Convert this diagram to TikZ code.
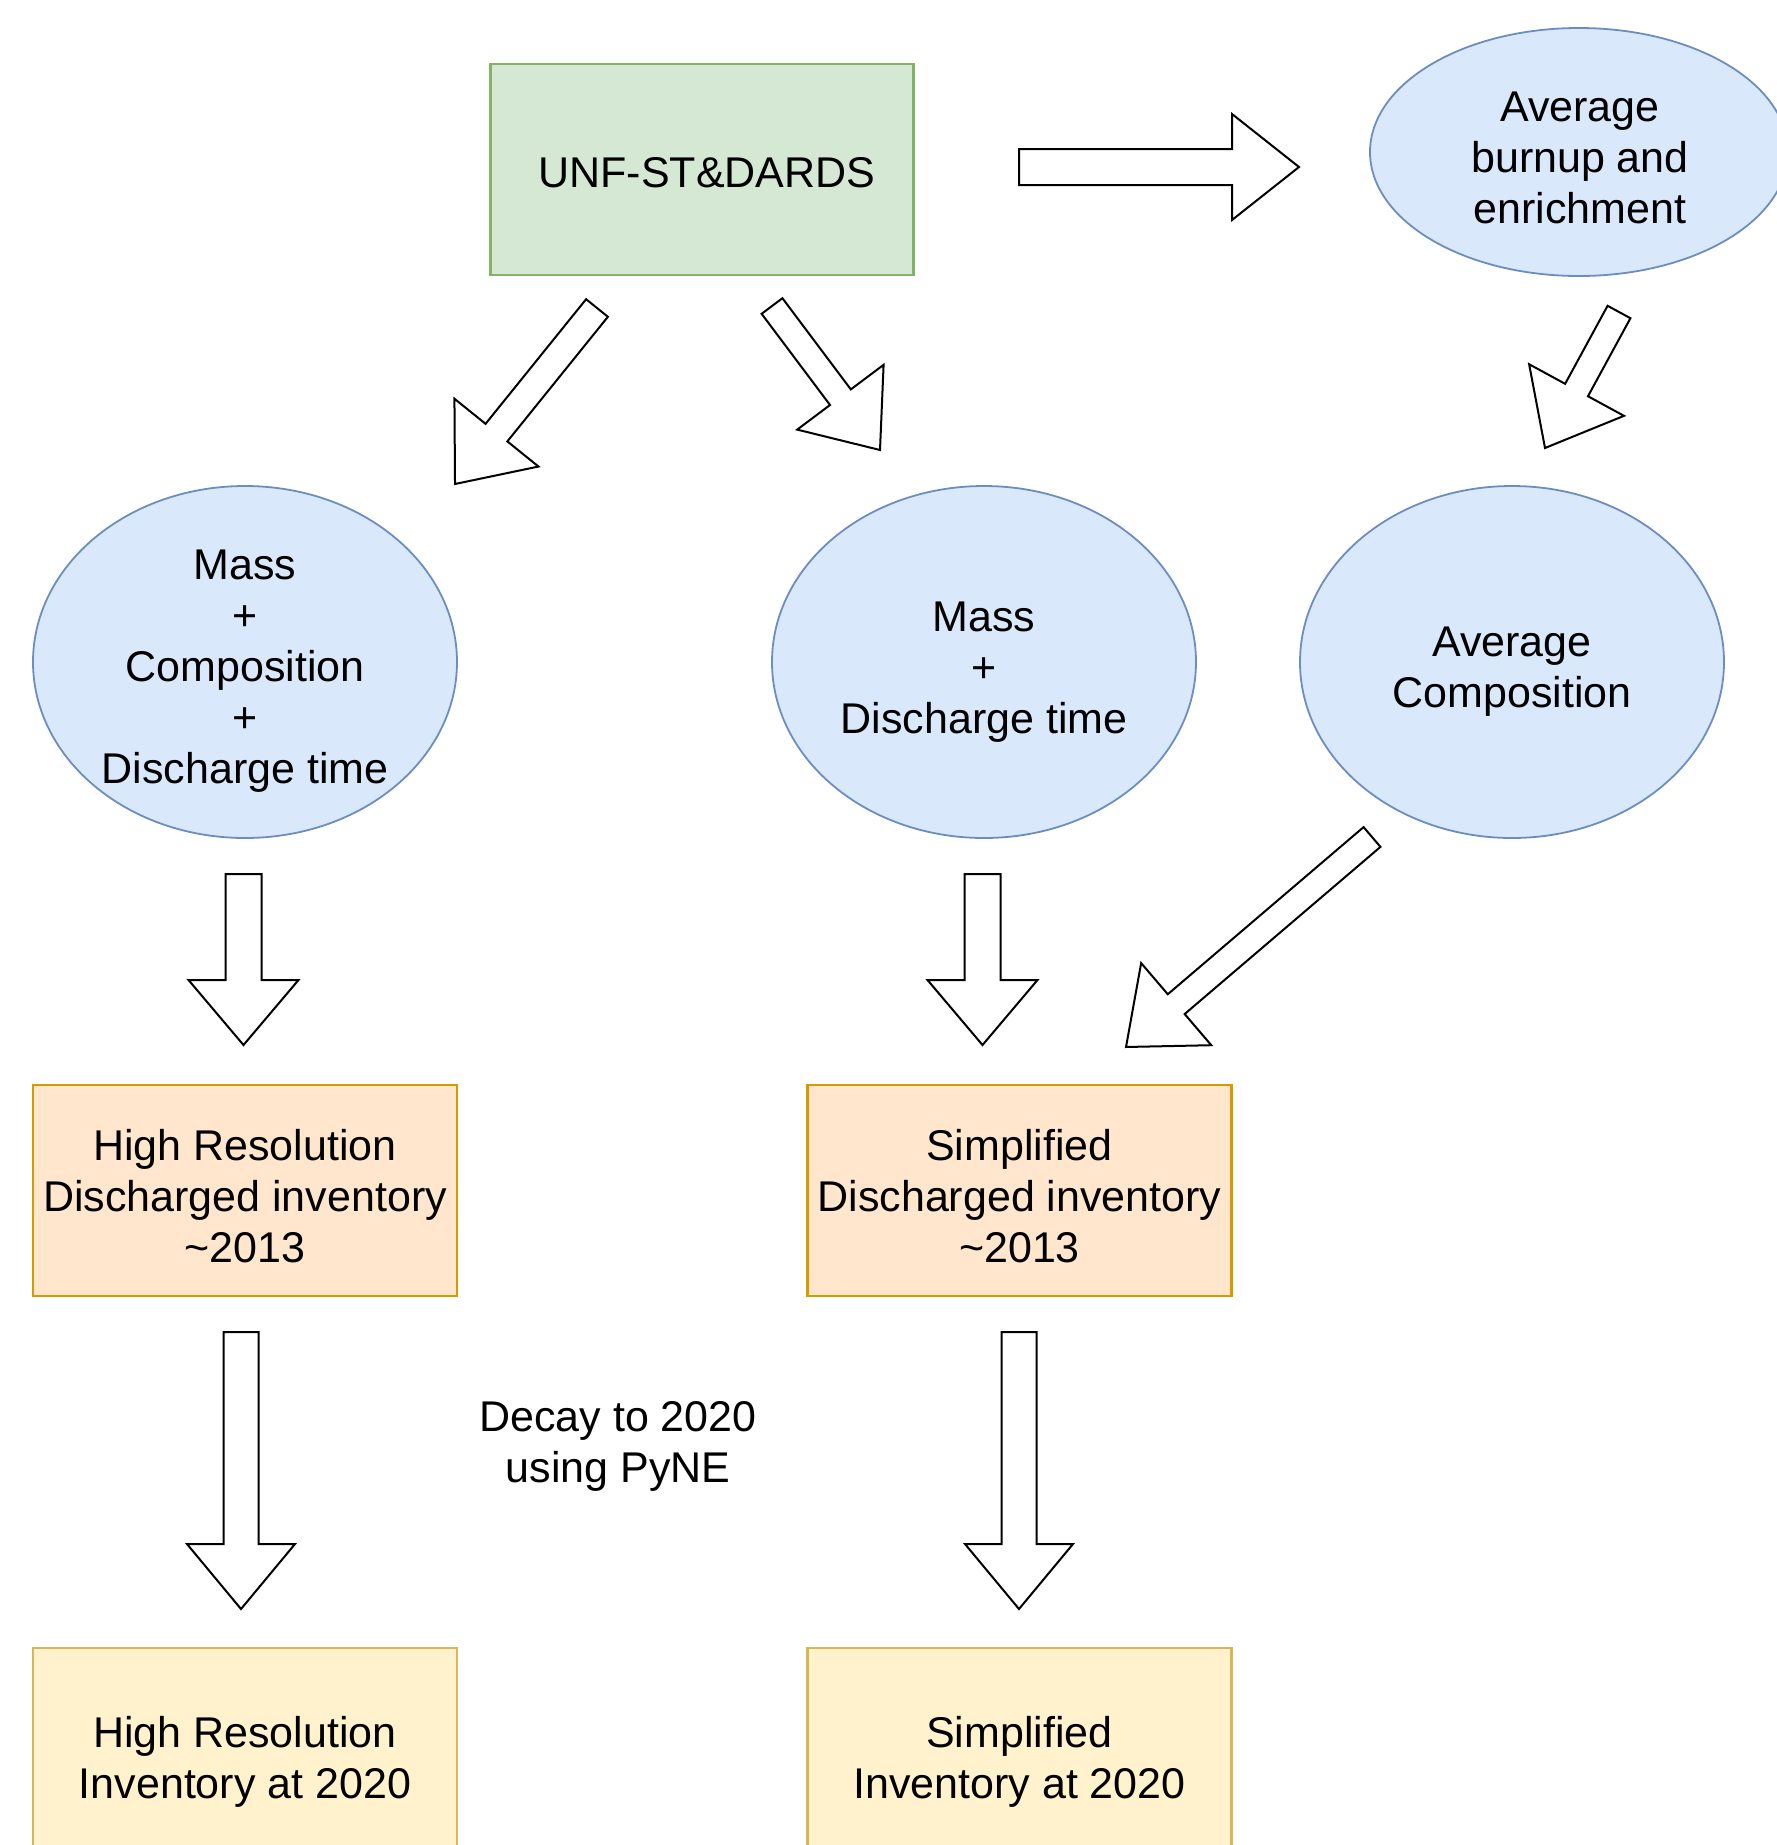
\documentclass[tikz,border=0pt]{standalone}
\usepackage{fontspec}
\setmainfont{Liberation Sans}
\usetikzlibrary{shapes.geometric,calc}
\definecolor{gfill}{HTML}{D5E8D4}\definecolor{gline}{HTML}{82B366}
\definecolor{bfill}{HTML}{DAE8FC}\definecolor{bline}{HTML}{6C8EBF}
\definecolor{ofill}{HTML}{FFE6CC}\definecolor{oline}{HTML}{D79B00}
\definecolor{yfill}{HTML}{FFF2CC}\definecolor{yline}{HTML}{D6B656}
\newcommand{\fatarrow}[5]{%
  \draw[blockarrow] let \p1=(#1), \p2=(#2),
    \n1={atan2(\y2-\y1,\x2-\x1)}, \n2={veclen(\x2-\x1,\y2-\y1)} in
    [shift={(\p1)}, rotate=\n1]
    (0,-#3) -- (\n2-#5,-#3) -- (\n2-#5,-#4) -- (\n2,0) -- (\n2-#5,#4) -- (\n2-#5,#3) -- (0,#3) -- cycle;}
\begin{document}
\begin{tikzpicture}[x=1pt,y=-1pt,
  txt/.style={font=\fontsize{43}{51}\selectfont, align=center, text=black, inner sep=0},
  boxg/.style={draw=gline, fill=gfill, line width=2.5, minimum width=423, minimum height=211, inner sep=0},
  boxo/.style={draw=oline, fill=ofill, line width=2.5, minimum width=424, minimum height=211, inner sep=0},
  boxy/.style={draw=yline, fill=yfill, line width=2.5, minimum width=424, minimum height=212, inner sep=0},
  ell/.style={ellipse, draw=bline, fill=bfill, line width=1.8, minimum width=424, minimum height=352, inner sep=0},
  blockarrow/.style={draw=black, fill=white, line width=2, line join=miter}]
\useasboundingbox (0,0) rectangle (1777,1845);
\fill[white] (0,0) rectangle (1777,1845);

\node[boxg] (unf) at (702,169.5) {};
\node[txt] (unft) at (707,173) {UNF-ST\&DARDS};
\node[ell, minimum width=418, minimum height=248] (burnup) at (1579,152) {};
\node[txt] (burnupt) at (1580,158) {Average\\burnup and\\enrichment};
\node[ell] (massA) at (245,662) {};
\node[txt] (massAt) at (245,671.5) {Mass\\+\\Composition\\+\\Discharge time};
\node[ell] (massB) at (984,662) {};
\node[txt] (massBt) at (984,672) {Mass\\+\\Discharge time};
\node[ell] (avgcomp) at (1512,662) {};
\node[txt] (avgcompt) at (1512,672) {Average\\Composition};
\node[boxo] (hrd) at (245,1190.5) {};
\node[txt] (hrdt) at (245,1196) {High Resolution\\Discharged inventory\\\textasciitilde2013};
\node[boxo] (sd) at (1019.5,1190.5) {};
\node[txt] (sdt) at (1019.5,1196) {Simplified\\Discharged inventory\\\textasciitilde2013};
\node[boxy] (hri) at (245,1754) {};
\node[txt] (hrit) at (245,1762) {High Resolution\\Inventory at 2020};
\node[boxy] (si) at (1019.5,1754) {};
\node[txt] (sit) at (1019.5,1762) {Simplified\\Inventory at 2020};
\node[txt] (decay) at (618,1446.5) {Decay to 2020\\using PyNE};

% arrow end points
\coordinate (a1t) at (1019,167); \coordinate (a1h) at (1299,167);
\coordinate (a2t) at (597,308);  \coordinate (a2h) at (455,484);
\coordinate (a3t) at (772,306);  \coordinate (a3h) at (880,450);
\coordinate (a4t) at (1619,312); \coordinate (a4h) at (1545,448);
\coordinate (a5t) at (243.5,874); \coordinate (a5h) at (243.5,1045);
\coordinate (a6t) at (982.5,874); \coordinate (a6h) at (982.5,1045);
\coordinate (a7t) at (1372,837); \coordinate (a7h) at (1126,1047);
\coordinate (a8t) at (241,1332); \coordinate (a8h) at (241,1609);
\coordinate (a9t) at (1019,1332); \coordinate (a9h) at (1019,1609);

\fatarrow{a1t}{a1h}{18}{53}{67}
\fatarrow{a2t}{a2h}{14}{54}{66}
\fatarrow{a3t}{a3h}{13}{54}{66}
\fatarrow{a4t}{a4h}{13}{54}{66}
\fatarrow{a5t}{a5h}{18}{55}{65}
\fatarrow{a6t}{a6h}{18}{55}{65}
\fatarrow{a7t}{a7h}{13}{54}{66}
\fatarrow{a8t}{a8h}{17.5}{54}{65}
\fatarrow{a9t}{a9h}{17.5}{54}{65}
\end{tikzpicture}
\end{document}
